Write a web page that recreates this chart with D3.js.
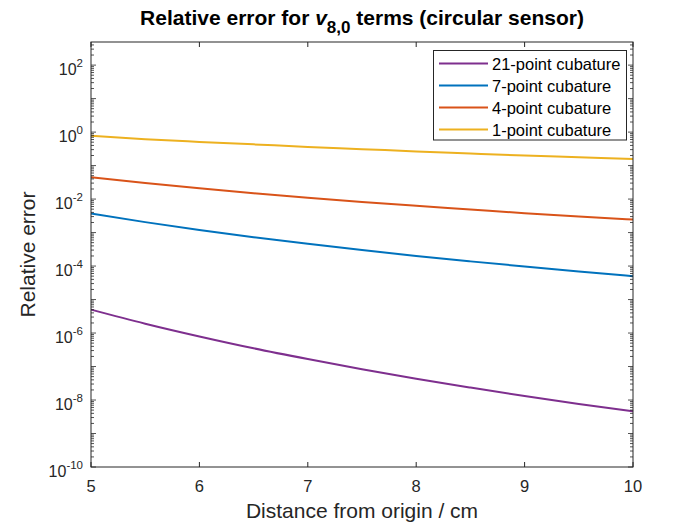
<!DOCTYPE html>
<html><head><meta charset="utf-8">
<script src="https://cdn.jsdelivr.net/npm/d3@7"></script>
<style>
body{margin:0;background:#fff;}
svg{font-family:"Liberation Sans",Arial,Helvetica,sans-serif;}
</style></head>
<body><svg id="c" width="700" height="525"></svg>
<script>
const distances = [5,5.5,6,6.5,7,7.5,8,8.5,9,9.5,10];
const err21 = [5.0e-6,1.9e-6,7.9e-7,3.5e-7,1.67e-7,8.3e-8,4.3e-8,2.35e-8,1.32e-8,7.6e-9,4.6e-9];
const err7  = [3.7e-3,2.05e-3,1.20e-3,7.3e-4,4.6e-4,3.0e-4,2.0e-4,1.38e-4,9.7e-5,6.9e-5,5.0e-5];
const err4  = [4.5e-2,3.02e-2,2.09e-2,1.49e-2,1.09e-2,8.2e-3,6.3e-3,4.9e-3,3.8e-3,3.0e-3,2.45e-3];
const err1  = [0.78,0.615,0.51,0.43,0.36,0.31,0.265,0.23,0.20,0.178,0.158];
const seriesNames = ["21-point cubature","7-point cubature","4-point cubature","1-point cubature"];
const xTicks = [5,6,7,8,9,10];
const yTickExps = [-10,-8,-6,-4,-2,0,2];

const colors = ["#7E2F8E","#0072BD","#D95319","#EDB120"];
const series = [err21,err7,err4,err1];

const svg = d3.select("#c");
const L=91,R=633,T=42,B=467;
const x = d3.scaleLinear().domain([5,10]).range([L,R]);
const y = d3.scaleLog().domain([1e-10,490]).range([B,T]);
const axCol="#262626";

// lines
const line = d3.line().x((d,i)=>x(distances[i])).y(d=>y(d)).curve(d3.curveMonotoneX);
const g = svg.append("g");
series.forEach((s,k)=>{
  g.append("path").attr("d",line(s)).attr("fill","none")
   .attr("stroke",colors[k]).attr("stroke-width",2);
});

// axes box
svg.append("rect").attr("x",L).attr("y",T).attr("width",R-L).attr("height",B-T)
  .attr("fill","none").attr("stroke",axCol).attr("stroke-width",1);

// x ticks
const xa = svg.append("g");
xTicks.forEach(t=>{
  const px = x(t);
  xa.append("line").attr("x1",px).attr("x2",px).attr("y1",B).attr("y2",B-5).attr("stroke",axCol);
  xa.append("line").attr("x1",px).attr("x2",px).attr("y1",T).attr("y2",T+5).attr("stroke",axCol);
  xa.append("text").attr("x",px).attr("y",B+25).attr("text-anchor","middle")
    .attr("font-size",16.5).attr("fill",axCol).text(t);
});

// y ticks (major & minor)
const ya = svg.append("g");
for(let e=-10;e<=2;e++){
  for(let m=1;m<=9;m++){
    const v = m*Math.pow(10,e);
    if(v>490) continue;
    const py = y(v);
    const len = m===1?5:3;
    ya.append("line").attr("x1",L).attr("x2",L+len).attr("y1",py).attr("y2",py).attr("stroke",axCol).attr("stroke-width",0.8);
    ya.append("line").attr("x1",R).attr("x2",R-len).attr("y1",py).attr("y2",py).attr("stroke",axCol).attr("stroke-width",0.8);
  }
}
yTickExps.forEach(e=>{
  const py = y(Math.pow(10,e));
  const t = ya.append("text").attr("x",L-8).attr("y",py+10).attr("text-anchor","end")
    .attr("font-size",16).attr("fill",axCol);
  t.append("tspan").text("10");
  t.append("tspan").attr("dy",-8.5).attr("font-size",11.5).text(String(e));
});

// axis labels
svg.append("text").attr("x",(L+R)/2).attr("y",518).attr("text-anchor","middle")
  .attr("font-size",21).attr("fill",axCol).text("Distance from origin / cm");
svg.append("text").attr("transform",`translate(35,${(T+B)/2}) rotate(-90)`)
  .attr("text-anchor","middle").attr("font-size",21).attr("fill",axCol).text("Relative error");

// title
const title = svg.append("text").attr("x",(L+R)/2).attr("y",25).attr("text-anchor","middle")
  .attr("font-size",21).attr("font-weight","bold").attr("fill","#000");
title.append("tspan").text("Relative error for ");
title.append("tspan").attr("font-style","italic").text("v");
title.append("tspan").attr("dy",8).attr("font-size",17).text("8,0");
title.append("tspan").attr("dy",-8).text(" terms (circular sensor)");

// legend
const lg = svg.append("g");
lg.append("rect").attr("x",433.5).attr("y",50.5).attr("width",193).attr("height",89.5)
  .attr("fill","#fff").attr("stroke","#262626").attr("stroke-width",1);
seriesNames.forEach((n,i)=>{
  const ry = 63.5 + i*22;
  lg.append("line").attr("x1",439).attr("x2",488).attr("y1",ry).attr("y2",ry)
    .attr("stroke",colors[i]).attr("stroke-width",2);
  lg.append("text").attr("x",492).attr("y",ry+6).attr("font-size",16.5).attr("fill","#000").text(n);
});
</script></body></html>
